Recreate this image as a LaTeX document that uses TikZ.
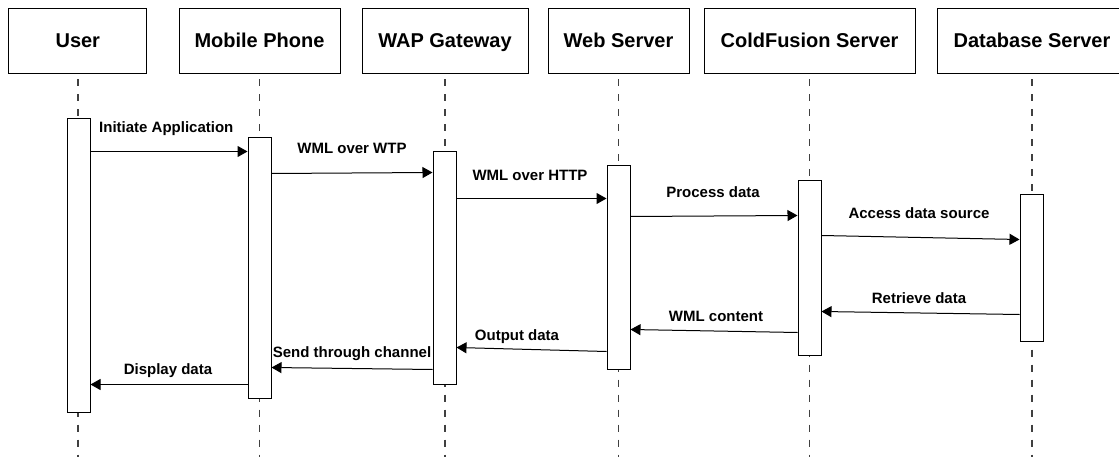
\documentclass[tikz,border=0pt]{standalone}
\usepackage{fontspec}
\setmainfont{Liberation Sans}
\usetikzlibrary{arrows.meta,calc}
\begin{document}
\begin{tikzpicture}[x=1pt,y=-1pt,
  head/.style={draw,line width=1pt,minimum width=#1,minimum height=65pt,inner sep=0pt,text height=16.5pt,text depth=4.3pt,font=\fontsize{20}{24}\selectfont\bfseries},
  bar/.style={draw,fill=white,line width=1pt,minimum width=23pt,inner sep=0pt},
  life/.style={draw=black!75,line width=1.5pt,dash pattern=on 7pt off 8pt,dash phase=-5pt},
  msg/.style={line width=1pt,-{Triangle[length=10pt,width=11pt]}},
  lbl/.style={font=\fontsize{15}{18}\selectfont\bfseries,inner sep=0pt,text height=11pt,text depth=0.5pt}]
\useasboundingbox (0,0) rectangle (1119,457);
% headers
\node[head=138pt] (user) at (77.8,41.5) {User};
\node[head=161pt] (mob) at (259.5,41.5) {Mobile Phone};
\node[head=166pt] (wap) at (445,41.5) {WAP Gateway};
\node[head=141pt] (web) at (618.5,41.5) {Web Server};
\node[head=211pt] (cf) at (809.5,41.5) {ColdFusion Server};
\node[head=190pt] (db) at (1032,41.5) {Database Server};
% lifelines
\foreach \n in {user,mob,wap,web,cf,db}
  \draw[life] (\n.south) -- (\n.south |- 0,457);
% activation bars
\node[bar,minimum height=293pt] (ub) at (78.5,265.5) {};
\node[bar,minimum height=260pt] (mb) at (259.5,268) {};
\node[bar,minimum height=232pt] (wb) at (444.5,268) {};
\node[bar,minimum height=203pt] (sb) at (618.5,267.5) {};
\node[bar,minimum height=174pt] (cb) at (809.5,268) {};
\node[bar,minimum height=146pt] (dbb) at (1031.5,268) {};
% messages
\draw[msg] ($(ub.north east)+(0,33)$) -- ($(mb.north west)+(0,14)$);
\draw[msg] ($(mb.north east)+(0,36)$) -- ($(wb.north west)+(0,21)$);
\draw[msg] ($(wb.north east)+(0,47)$) -- ($(sb.north west)+(0,33)$);
\draw[msg] ($(sb.north east)+(0,51)$) -- ($(cb.north west)+(0,35)$);
\draw[msg] ($(cb.north east)+(0,55)$) -- ($(dbb.north west)+(0,45)$);
\draw[msg] ($(dbb.north west)+(0,120)$) -- ($(cb.north east)+(0,131)$);
\draw[msg] ($(cb.north west)+(0,152)$) -- ($(sb.north east)+(0,164)$);
\draw[msg] ($(sb.north west)+(0,186)$) -- ($(wb.north east)+(0,196)$);
\draw[msg] ($(wb.north west)+(0,218)$) -- ($(mb.north east)+(0,230)$);
\draw[msg] ($(mb.north west)+(0,247)$) -- ($(ub.north east)+(0,266)$);
% labels
\node[lbl,anchor=west] (l1) at (99,127) {Initiate Application};
\node[lbl] (l2) at (352,148) {WML over WTP};
\node[lbl] (l3) at (530,175) {WML over HTTP};
\node[lbl] (l4) at (713,192) {Process data};
\node[lbl] (l5) at (919,213) {Access data source};
\node[lbl] (l6) at (919,298) {Retrieve data};
\node[lbl] (l7) at (716,316) {WML content};
\node[lbl] (l8) at (517,335) {Output data};
\node[lbl] (l9) at (352,352) {Send through channel};
\node[lbl] (l10) at (168,369) {Display data};
\end{tikzpicture}
\end{document}
